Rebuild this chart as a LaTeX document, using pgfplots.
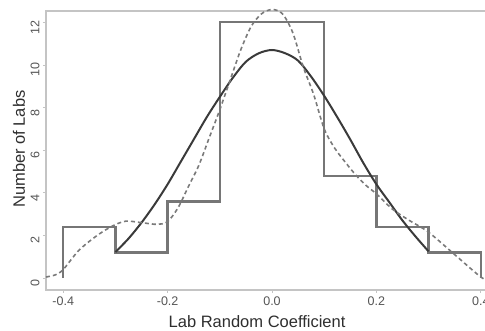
\documentclass[border=0pt]{standalone}
\usepackage{pgfplots}
\pgfplotsset{compat=1.18}
\usepackage{fontspec}
\setmainfont{Liberation Sans}
\definecolor{histc}{HTML}{767676}
\definecolor{curvc}{HTML}{3A3A3A}
\definecolor{dashc}{HTML}{7A7A7A}
\definecolor{boxc}{HTML}{C4C4C4}
\definecolor{tickc}{HTML}{555555}
\definecolor{labc}{HTML}{2E2E2E}
\begin{document}
\begin{tikzpicture}[x=1pt,y=1pt]
\begin{axis}[
  at={(0,0)}, anchor=south west,
  scale only axis, width=452pt, height=279pt,
  xmin=-0.433, xmax=0.433, ymin=-0.56, ymax=12.53,
  axis line style={boxc, line width=1.2pt},
  xtick={-0.4,-0.2,0,0.2,0.4},
  xticklabels={-0.4,-0.2,0.0,0.2,0.4},
  ytick={0,2,4,6,8,10,12},
  yticklabels={0,2,4,6,8,10,12},
  xtick pos=lower, ytick pos=left,
  tick align=outside, major tick length=3pt,
  tick style={boxc, line width=0.8pt},
  ticklabel style={font=\fontsize{12.5}{13}\selectfont, text=tickc},
  xticklabel style={yshift=0pt},
  yticklabel style={rotate=90, anchor=south, xshift=-5pt},
  xlabel={Lab Random Coefficient},
  ylabel={Number of Labs},
  label style={font=\fontsize{16.5}{18}\selectfont, text=labc},
  xlabel style={anchor=center, at={(axis description cs:0.467,-0.1136)}},
  ylabel style={anchor=center, at={(axis description cs:-0.06,0.505)}},
  clip=false,
]
% histogram outline
\addplot[histc, line width=2.4pt, line join=miter] coordinates {
 (-0.4,0) (-0.4,2.4) (-0.3,2.4) (-0.3,1.2) (-0.2,1.2) (-0.2,3.6) (-0.1,3.6)
 (-0.1,12) (0.1,12) (0.1,4.8) (0.2,4.8) (0.2,2.4) (0.3,2.4) (0.3,1.2) (0.4,1.2) (0.4,0)
};
% solid fitted curve
\addplot[curvc, line width=2pt, smooth] coordinates {
 (-0.30,1.22) (-0.275,1.85) (-0.25,2.6) (-0.225,3.45) (-0.20,4.4) (-0.175,5.45)
 (-0.15,6.5) (-0.125,7.55) (-0.10,8.5) (-0.075,9.4) (-0.05,10.15) (-0.025,10.55)
 (0.0,10.7) (0.025,10.55) (0.05,10.2) (0.075,9.45) (0.10,8.55) (0.125,7.55)
 (0.15,6.5) (0.175,5.4) (0.20,4.4) (0.225,3.55) (0.25,2.7) (0.275,1.95) (0.30,1.25)
};
% dashed kernel density
\addplot[dashc, line width=1.6pt, dash pattern=on 4pt off 3pt, smooth] coordinates {
 (-0.433,0.05) (-0.415,0.15) (-0.40,0.4) (-0.37,1.3) (-0.335,2.0) (-0.305,2.45)
 (-0.28,2.67) (-0.25,2.6) (-0.22,2.52) (-0.20,2.65) (-0.18,3.3) (-0.16,4.3)
 (-0.14,5.3) (-0.12,6.6) (-0.10,7.9) (-0.08,9.3) (-0.06,10.7) (-0.04,11.8)
 (-0.02,12.4) (0.0,12.6) (0.02,12.4) (0.04,11.5) (0.06,9.9) (0.08,8.6)
 (0.10,7.0) (0.12,6.1) (0.14,5.45) (0.16,4.85) (0.18,4.35) (0.20,3.95)
 (0.23,3.25) (0.26,2.75) (0.30,2.15) (0.35,1.1) (0.40,0.05) (0.42,-0.2)
};
\end{axis}
\pgfresetboundingbox
\useasboundingbox (-46pt,-41pt) rectangle (439pt,290pt);
\end{tikzpicture}
\end{document}
